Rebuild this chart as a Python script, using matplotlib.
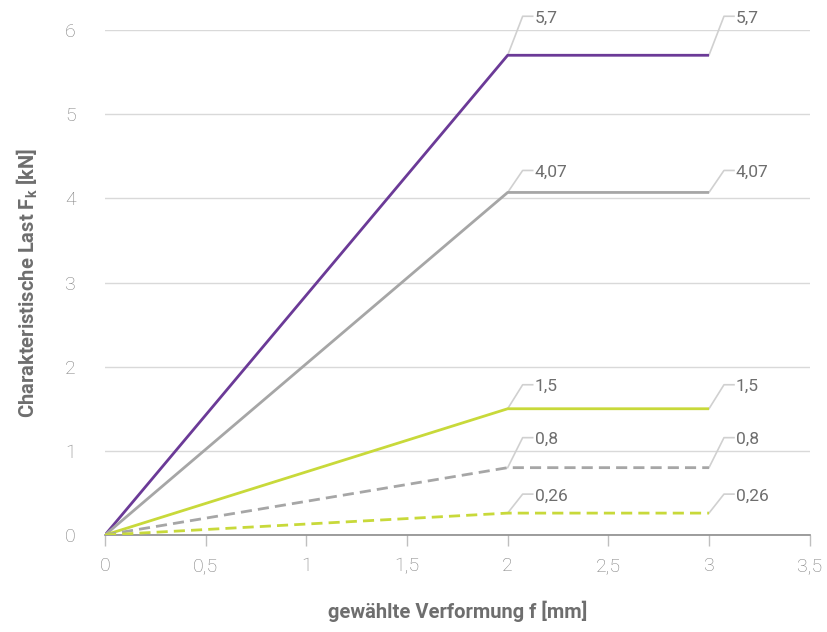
import matplotlib
matplotlib.use('Agg')
import matplotlib.pyplot as plt
import matplotlib.transforms as mtransforms

# ── Data ──────────────────────────────────────────────────────────────────
deformation = [0, 2, 3]
series_names = ['a', 'b', 'c', 'd', 'e']
series_values = [
    [0, 5.7, 5.7],
    [0, 4.07, 4.07],
    [0, 1.5, 1.5],
    [0, 0.8, 0.8],
    [0, 0.26, 0.26],
]
label_texts = ['5,7', '4,07', '1,5', '0,8', '0,26']

colors = ['#6b3a97', '#a6a6a6', '#c8d93a', '#a6a6a6', '#c8d93a']
styles = ['-', '-', '-', '--', '--']
# vertical rise of the label leader lines (pixels)
leader_rise = [39, 22, 24, 30, 19]

x_ticks = [0, 0.5, 1, 1.5, 2, 2.5, 3, 3.5]
x_ticklabels = ['0', '0,5', '1', '1,5', '2', '2,5', '3', '3,5']
y_ticks = [0, 1, 2, 3, 4, 5, 6]

plt.rcParams['font.family'] = ['Roboto', 'DejaVu Sans']

fig = plt.figure(figsize=(8.27, 6.32), dpi=100)
ax = fig.add_axes([0.127, 0.1535, 0.852, 0.799])

for ys, c, ls in zip(series_values, colors, styles):
    ax.plot(deformation, ys, color=c, linestyle=ls, linewidth=2,
            dashes=(4, 2.2) if ls == '--' else (None, None), zorder=3,
            solid_capstyle='butt')

# data labels with leader lines
px = 1 / fig.dpi
for ys, txt, rise in zip(series_values, label_texts, leader_rise):
    for x, y in zip(deformation[1:], ys[1:]):
        trans = fig.dpi_scale_trans + mtransforms.ScaledTranslation(x, y, ax.transData)
        ax.plot([0, 15 * px, 25 * px], [0, rise * px, rise * px],
                color='#d0d0d0', linewidth=1.2, transform=trans, zorder=2,
                clip_on=False)
        ax.text(27 * px, (rise - 2) * px, txt, transform=trans, fontsize=12.5,
                color='#6e6e6e', va='center', ha='left')

ax.set_xlim(0, 3.5)
ax.set_ylim(0, 6)
ax.set_xticks(x_ticks)
ax.set_xticklabels(x_ticklabels)
ax.set_yticks(y_ticks)

ax.yaxis.grid(True, color='#d9d9d9', linewidth=1)
ax.set_axisbelow(True)
for s in ['top', 'right', 'left']:
    ax.spines[s].set_visible(False)
ax.spines['bottom'].set_color('#8c8c8c')
ax.spines['bottom'].set_linewidth(1.2)

ax.tick_params(axis='x', direction='out', length=8, width=1, color='#bfbfbf',
               labelsize=14, labelcolor='#7f7f7f', pad=8)
ax.tick_params(axis='y', length=0, labelsize=14, labelcolor='#7f7f7f', pad=21)
for lab in ax.get_xticklabels() + ax.get_yticklabels():
    lab.set_fontweight('light')

ax.set_xlabel('gewählte Verformung f [mm]', fontsize=14.5, fontweight='bold',
              color='#6e6e6e', labelpad=18)
ax.set_ylabel(r'Charakteristische Last F$_\mathregular{k}$ [kN]', fontsize=14.5,
              fontweight='bold', color='#6e6e6e', labelpad=18)

plt.savefig('out.png', dpi=100)
